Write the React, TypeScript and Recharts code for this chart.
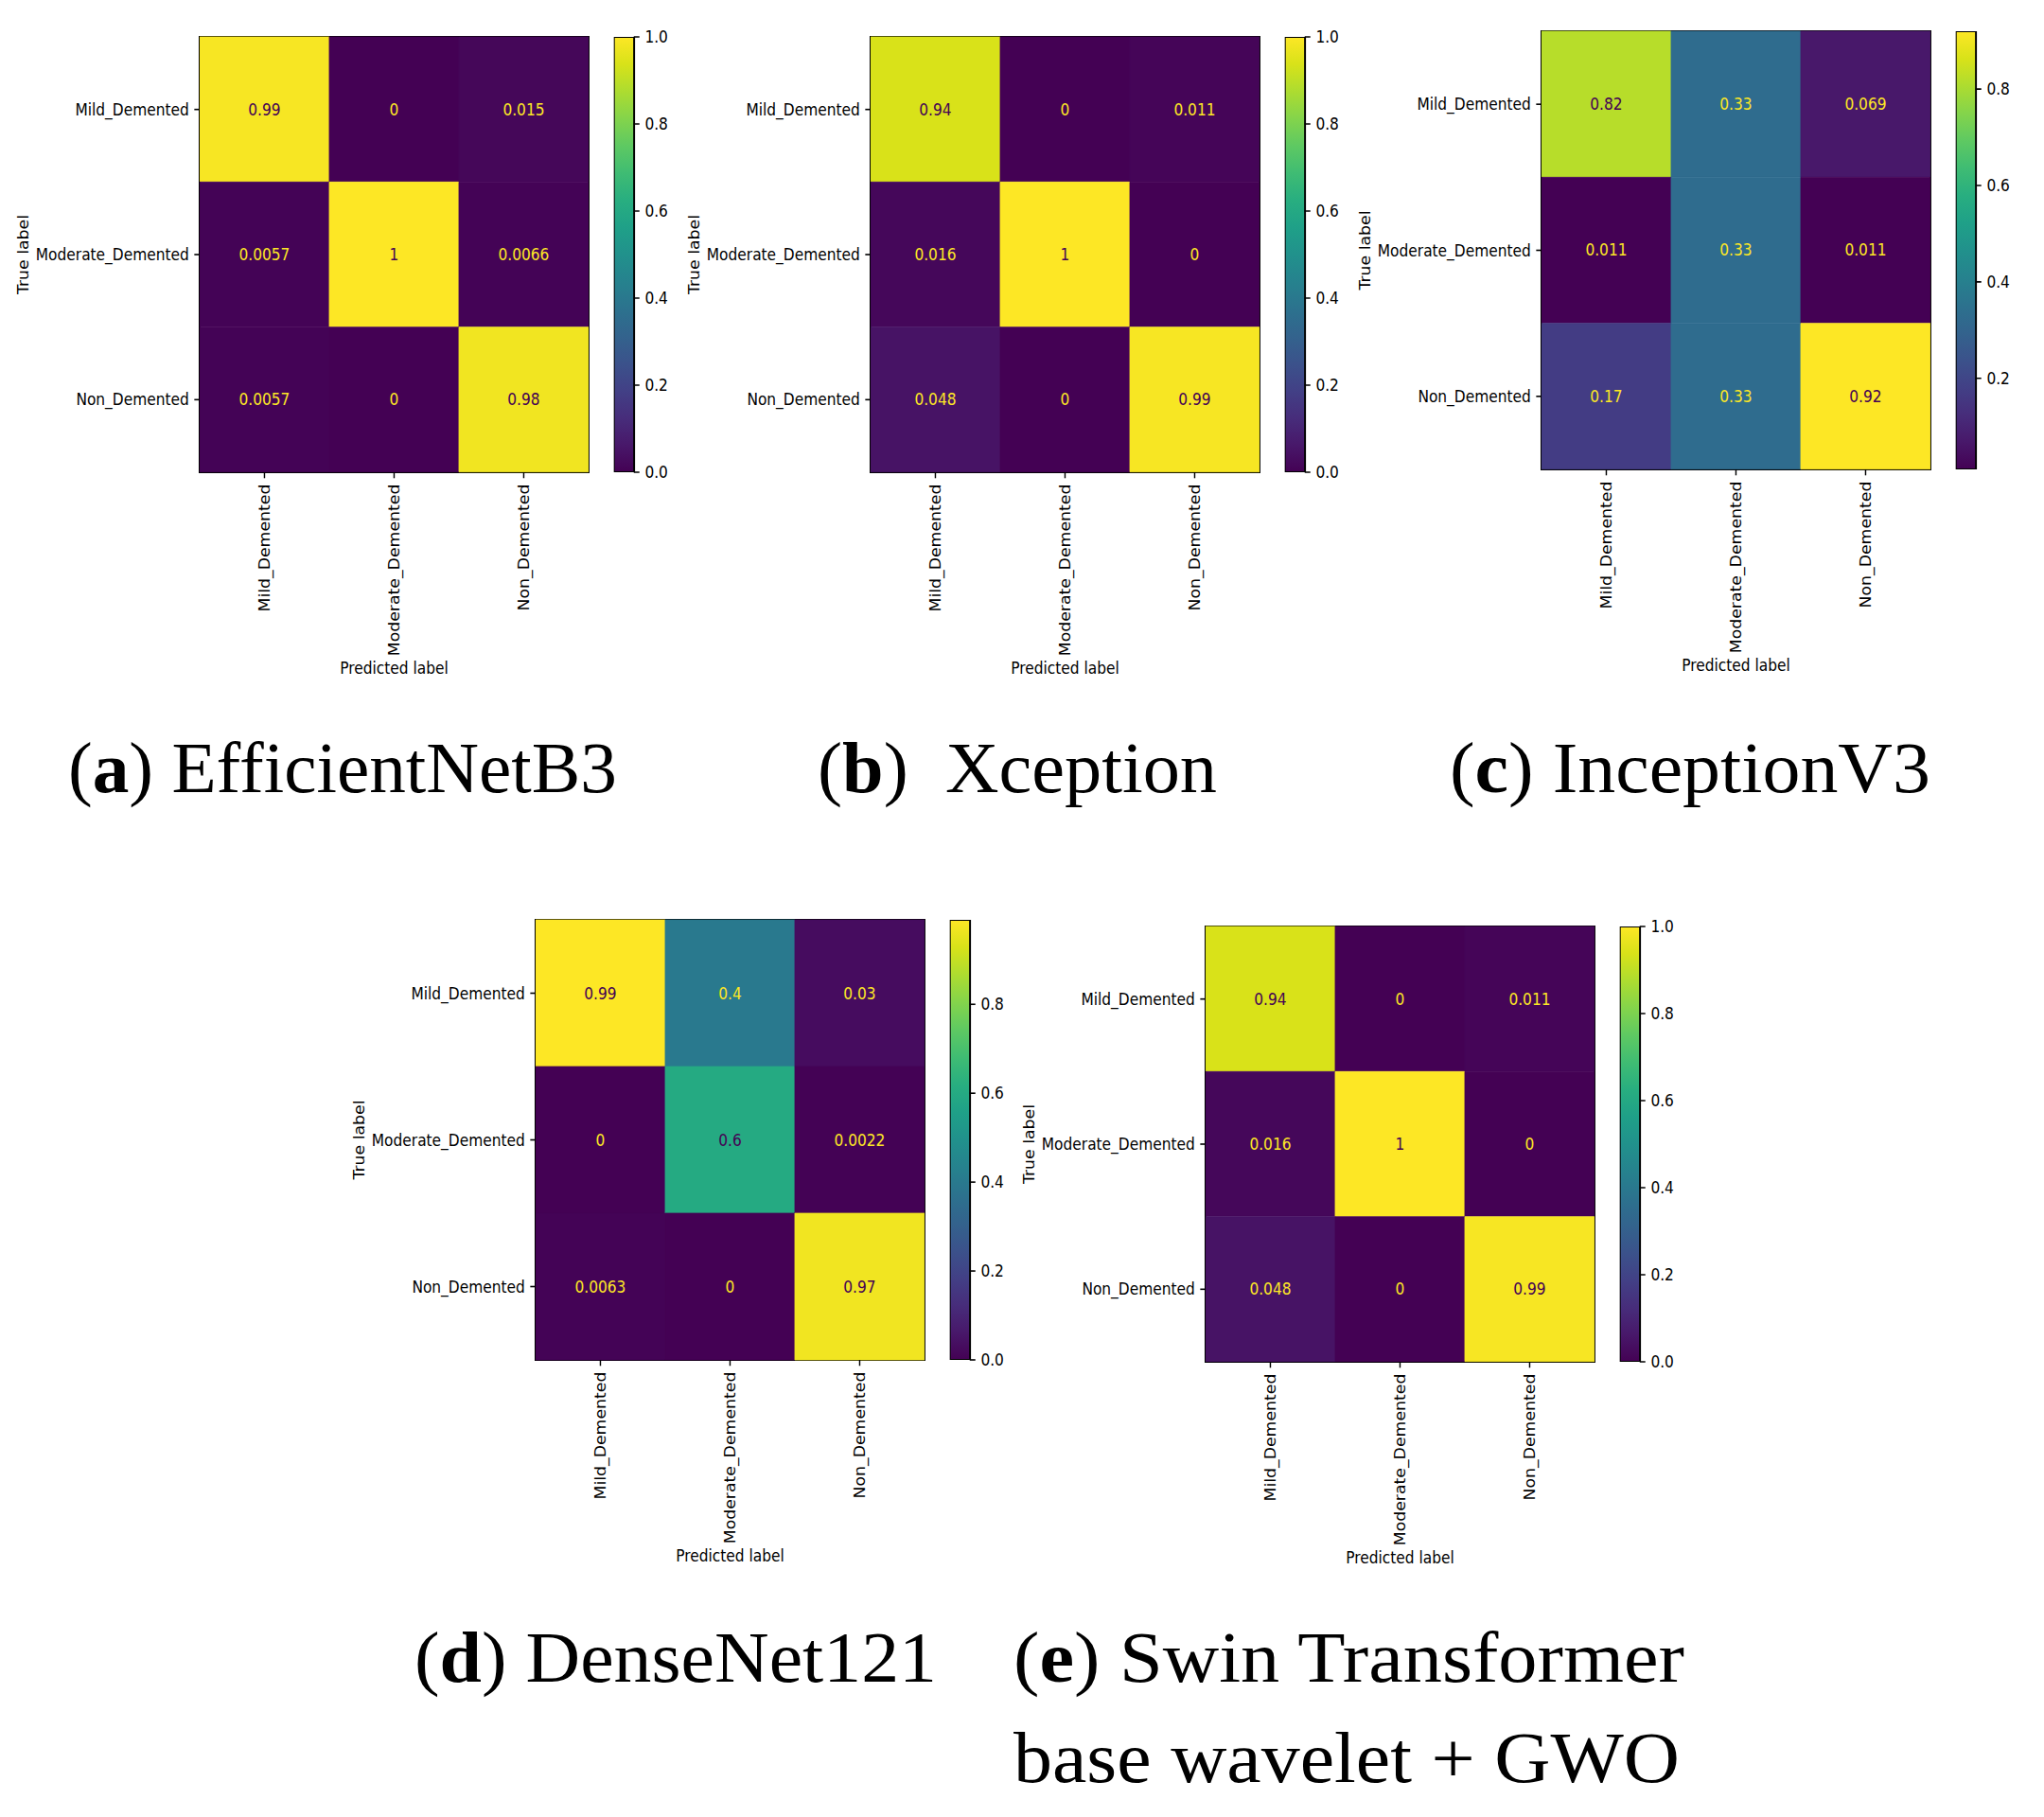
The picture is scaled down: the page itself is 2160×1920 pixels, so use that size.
import React from 'react';
import { BarChart, Bar, XAxis, YAxis, Cell, LabelList, Label, ReferenceArea } from 'recharts';

// ---------------- data ----------------
const classNames = ['Mild_Demented', 'Moderate_Demented', 'Non_Demented'];

const efficientNetB3 = [
  [0.99, 0, 0.015],
  [0.0057, 1, 0.0066],
  [0.0057, 0, 0.98],
];
const xception = [
  [0.94, 0, 0.011],
  [0.016, 1, 0],
  [0.048, 0, 0.99],
];
const inceptionV3 = [
  [0.82, 0.33, 0.069],
  [0.011, 0.33, 0.011],
  [0.17, 0.33, 0.92],
];
const denseNet121 = [
  [0.99, 0.4, 0.03],
  [0, 0.6, 0.0022],
  [0.0063, 0, 0.97],
];
const swinWaveletGWO = [
  [0.94, 0, 0.011],
  [0.016, 1, 0],
  [0.048, 0, 0.99],
];

const ticksUnit = [0, 0.2, 0.4, 0.6, 0.8, 1.0];
const ticksInception = [0.2, 0.4, 0.6, 0.8];
const ticksDenseNet = [0, 0.2, 0.4, 0.6, 0.8];

const xTickPositions = [0.5, 1.5, 2.5];

// ---------------- colormap ----------------
const VIRIDIS = [
  [68, 1, 84], [72, 24, 106], [71, 45, 123], [66, 64, 134], [59, 82, 139],
  [51, 99, 141], [44, 114, 142], [38, 130, 142], [33, 145, 140], [31, 160, 136],
  [40, 174, 128], [63, 188, 115], [94, 201, 98], [132, 212, 75], [173, 220, 48],
  [216, 226, 25], [253, 231, 37],
];
function viridis(t: number): string {
  const c = Math.max(0, Math.min(1, t));
  const s = c * 16;
  const i = Math.min(15, Math.floor(s));
  const f = s - i;
  const a = VIRIDIS[i], b = VIRIDIS[i + 1];
  const r = Math.round(a[0] + (b[0] - a[0]) * f);
  const g = Math.round(a[1] + (b[1] - a[1]) * f);
  const bl = Math.round(a[2] + (b[2] - a[2]) * f);
  return `rgb(${r},${g},${bl})`;
}
const fmt = (v: number) => String(Number(v.toPrecision(2)));

// ---------------- geometry (native, before horizontal squish) ----------------
const K = 411 / 461;
const PLOT_W = 461;
const YW = 240;
const XH = 240;
const MT = 10;
const MR = 6;
const TICK = 6.3;
const FS = 17.3;
const FONT = "'DejaVu Sans', sans-serif";
const CB_W = 23.6;
const CB_GAP = 29.7;
const CB_AXIS = 70;
const CB_MB = 10;

const layoutA = { left: 211, top: 39, plotH: 460 };
const layoutB = { left: 920, top: 39, plotH: 460 };
const layoutC = { left: 1629, top: 33, plotH: 463 };
const layoutD = { left: 566, top: 972, plotH: 465 };
const layoutE = { left: 1274, top: 979, plotH: 460 };

const XTick = (p: any) => {
  const x = Number(p.x), y = Number(p.y);
  const label = classNames[Math.floor(Number(p.payload.value))];
  return (
    <text x={x} y={y} transform={`rotate(-90 ${x} ${y})`} textAnchor="end" dy="0.35em"
      fontFamily={FONT} fontSize={FS} fill="#000">{label}</text>
  );
};

const PredLabel = (p: any) => {
  const vb = p.viewBox || {};
  return (
    <text x={vb.x + vb.width / 2} y={vb.y + 213} textAnchor="middle" fontFamily={FONT} fontSize={FS} fill="#000">
      Predicted label
    </text>
  );
};

const TrueLabel = (p: any) => {
  const vb = p.viewBox || {};
  const x = vb.x + vb.width - 209;
  const y = vb.y + vb.height / 2;
  return (
    <text x={x} y={y} transform={`rotate(-90 ${x} ${y})`} textAnchor="middle" dy="0.35em"
      fontFamily={FONT} fontSize={FS} fill="#000">True label</text>
  );
};

function Heatmap({ matrix, plotH }: { matrix: number[][]; plotH: number }) {
  const flat = matrix.flat();
  const vmin = Math.min(...flat);
  const vmax = Math.max(...flat);
  const thresh = (vmin + vmax) / 2;
  const norm = (v: number) => (vmax === vmin ? 0 : (v - vmin) / (vmax - vmin));
  const data = classNames.map((row, i) => ({
    row, c0: 1, c1: 1, c2: 1, v0: matrix[i][0], v1: matrix[i][1], v2: matrix[i][2],
  }));
  const cellText = (p: any) => {
    const x = Number(p.x), y = Number(p.y), w = Number(p.width), h = Number(p.height);
    const v = Number(p.value);
    return (
      <text x={x + w / 2} y={y + h / 2} dy="0.35em" textAnchor="middle"
        fill={v < thresh ? viridis(1) : viridis(0)} fontFamily={FONT} fontSize={FS}>{fmt(v)}</text>
    );
  };
  return (
    <BarChart layout="vertical" width={YW + PLOT_W + MR} height={MT + plotH + XH} data={data}
      margin={{ top: MT, right: MR, bottom: 0, left: 0 }} barCategoryGap={0} barGap={0}>
      <XAxis type="number" domain={[0, 3]} ticks={xTickPositions} interval={0} height={XH}
        tickSize={TICK} tickMargin={TICK} axisLine={false} allowDataOverflow
        tickLine={{ stroke: '#000', strokeWidth: 1.6 }} tick={<XTick />}>
        <Label content={PredLabel} />
      </XAxis>
      <YAxis type="category" dataKey="row" width={YW} tickSize={TICK} tickMargin={TICK} axisLine={false}
        interval={0} tickLine={{ stroke: '#000', strokeWidth: 1.6 }}
        tick={{ fill: '#000', fontFamily: FONT, fontSize: FS }}>
        <Label content={TrueLabel} />
      </YAxis>
      {[0, 1, 2].map((j) => (
        <Bar key={j} dataKey={`c${j}`} stackId="cm" isAnimationActive={false}>
          {matrix.map((r, i) => (
            <Cell key={i} fill={viridis(norm(r[j]))} stroke={viridis(norm(r[j]))} strokeWidth={0.8} />
          ))}
          <LabelList dataKey={`v${j}`} content={cellText} />
        </Bar>
      ))}
      <ReferenceArea x1={0} x2={3} fill="none" fillOpacity={0} stroke="#000" strokeWidth={2.2} ifOverflow="visible" />
    </BarChart>
  );
}

function Colorbar({ matrix, ticks, plotH, gid }: { matrix: number[][]; ticks: number[]; plotH: number; gid: string }) {
  const flat = matrix.flat();
  const vmin = Math.min(...flat);
  const vmax = Math.max(...flat);
  const data = [{ name: 'cb', range: [vmin, vmax] }];
  return (
    <BarChart width={CB_W + CB_AXIS} height={MT + plotH + CB_MB} data={data}
      margin={{ top: MT, right: 0, bottom: CB_MB, left: 0 }} barCategoryGap={0} barGap={0}>
      <defs>
        <linearGradient id={gid} x1="0" y1="0" x2="0" y2="1">
          {VIRIDIS.map((_, i) => (
            <stop key={i} offset={i / 16} stopColor={viridis(1 - i / 16)} />
          ))}
        </linearGradient>
      </defs>
      <XAxis type="category" dataKey="name" hide />
      <YAxis orientation="right" type="number" domain={[vmin, vmax]} ticks={ticks} allowDataOverflow interval={0}
        width={CB_AXIS} tickSize={6.7} tickMargin={6.4} axisLine={false}
        tickLine={{ stroke: '#000', strokeWidth: 1.6 }}
        tick={{ fill: '#000', fontFamily: FONT, fontSize: FS }}
        tickFormatter={(v: number) => v.toFixed(1)} />
      <Bar dataKey="range" fill={`url(#${gid})`} stroke="#000" strokeWidth={2.2} isAnimationActive={false} />
    </BarChart>
  );
}

function Panel({ matrix, ticks, layout, gid }: any) {
  return (
    <div style={{
      position: 'absolute', left: layout.left - YW * K, top: layout.top - MT, width: 1000, height: 760,
      transform: `scaleX(${K})`, transformOrigin: '0 0',
    }}>
      <div style={{ position: 'absolute', left: 0, top: 0 }}>
        <Heatmap matrix={matrix} plotH={layout.plotH} />
      </div>
      <div style={{ position: 'absolute', left: YW + PLOT_W + CB_GAP, top: 0 }}>
        <Colorbar matrix={matrix} ticks={ticks} plotH={layout.plotH} gid={gid} />
      </div>
    </div>
  );
}

const SERIF = "'Liberation Serif', 'DejaVu Serif', serif";
const CAP_FS = 76;

function Caption({ x, w, y, letter, gap, title }: { x: number; w: number; y: number; letter?: string; gap?: string; title: string }) {
  return (
    <text x={x} y={y} textLength={w} lengthAdjust="spacingAndGlyphs" fontFamily={SERIF} fontSize={CAP_FS}
      fill="#000" style={{ whiteSpace: 'pre' }}>
      {letter ? <tspan>(</tspan> : null}
      {letter ? <tspan fontWeight="bold">{letter}</tspan> : null}
      {letter ? <tspan>{')' + (gap || ' ')}</tspan> : null}
      <tspan>{title}</tspan>
    </text>
  );
}

export default function App() {
  return (
    <div style={{ position: 'absolute', left: 0, top: 0, width: 2160, height: 1920, background: '#fff', overflow: 'hidden' }}>
      <Panel matrix={efficientNetB3} ticks={ticksUnit} layout={layoutA} gid="cbA" />
      <Panel matrix={xception} ticks={ticksUnit} layout={layoutB} gid="cbB" />
      <Panel matrix={inceptionV3} ticks={ticksInception} layout={layoutC} gid="cbC" />
      <Panel matrix={denseNet121} ticks={ticksDenseNet} layout={layoutD} gid="cbD" />
      <Panel matrix={swinWaveletGWO} ticks={ticksUnit} layout={layoutE} gid="cbE" />
      <svg width={2160} height={1920} style={{ position: 'absolute', left: 0, top: 0, pointerEvents: 'none' }}>
        <Caption x={72} w={580} y={837} letter="a" title="EfficientNetB3" />
        <Caption x={864} w={422} y={837} letter="b" gap="  " title="Xception" />
        <Caption x={1532} w={508} y={837} letter="c" title="InceptionV3" />
        <Caption x={438} w={552} y={1777} letter="d" title="DenseNet121" />
        <Caption x={1071} w={709} y={1777} letter="e" title="Swin Transformer" />
        <Caption x={1071} w={704} y={1883} title="base wavelet + GWO" />
      </svg>
    </div>
  );
}
